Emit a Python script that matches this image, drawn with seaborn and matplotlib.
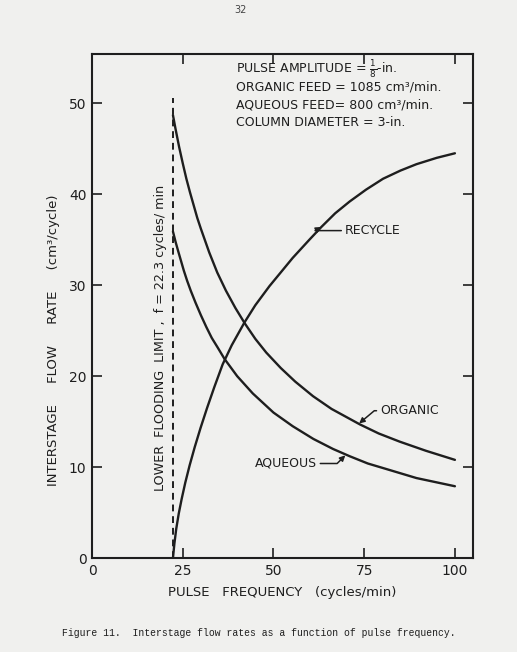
import numpy as np
import pandas as pd
import matplotlib
matplotlib.use('Agg')
import matplotlib.pyplot as plt
import seaborn as sns

# ── Data ──────────────────────────────────────────────────────────────────────
FLOOD_LIMIT = 22.3

recycle_x = [22.3, 22.7, 23.2, 23.9, 24.7, 25.7, 26.9, 28.3, 29.9, 31.7, 33.7, 36.0,
             38.5, 40.6, 42.0, 45.0, 48.9, 52.0, 55.3, 59.9, 63.2, 67.0, 71.0, 75.5,
             80.2, 85.0, 89.4, 95.0, 100.0]
recycle_y = [0.0, 1.6, 3.2, 4.9, 6.5, 8.3, 10.2, 12.2, 14.3, 16.5, 18.8, 21.3,
             23.4, 24.9, 25.9, 27.8, 29.9, 31.4, 33.0, 35.0, 36.4, 37.9, 39.2, 40.5,
             41.7, 42.6, 43.3, 44.0, 44.5]

organic_x = [22.3, 23.0, 24.0, 25.0, 26.0, 27.0, 28.0, 29.0, 30.0, 32.3, 34.5, 36.9,
             39.5, 42.1, 45.0, 48.0, 52.0, 56.0, 60.9, 66.0, 73.8, 79.0, 84.8, 92.0,
             100.0]
organic_y = [48.7, 47.2, 45.2, 43.4, 41.7, 40.2, 38.8, 37.4, 36.2, 33.6, 31.4, 29.4,
             27.5, 25.8, 24.1, 22.6, 20.9, 19.4, 17.8, 16.4, 14.7, 13.7, 12.8, 11.8,
             10.8]

aqueous_x = [22.3, 23.0, 23.7, 24.5, 25.3, 26.2, 27.2, 28.5, 30.0, 31.5, 33.0, 34.7,
             36.5, 40.0, 44.3, 50.0, 55.3, 61.0, 66.4, 71.0, 76.0, 80.2, 89.4, 100.0]
aqueous_y = [35.9, 34.8, 33.8, 32.7, 31.6, 30.5, 29.4, 28.1, 26.7, 25.4, 24.2, 23.1,
             21.9, 20.0, 18.1, 16.0, 14.5, 13.1, 12.0, 11.2, 10.4, 9.9, 8.8, 7.9]

x_ticks = [0, 25, 50, 75, 100]
y_ticks = [0, 10, 20, 30, 40, 50]

info_lines = [r'PULSE AMPLITUDE = $\frac{1}{8}$-in.',
              'ORGANIC FEED = 1085 cm\u00b3/min.',
              'AQUEOUS FEED= 800 cm\u00b3/min.',
              'COLUMN DIAMETER = 3-in.']

df = pd.concat([
    pd.DataFrame({'freq': recycle_x, 'rate': recycle_y, 'stream': 'RECYCLE'}),
    pd.DataFrame({'freq': organic_x, 'rate': organic_y, 'stream': 'ORGANIC'}),
    pd.DataFrame({'freq': aqueous_x, 'rate': aqueous_y, 'stream': 'AQUEOUS'}),
], ignore_index=True)

# ── Style ─────────────────────────────────────────────────────────────────────
sns.set_theme(style='ticks')
plt.rcParams['font.family'] = ['DejaVu Sans']
PAPER = '#f0f0ee'
INK = '#1e1e1e'
FS = 9.0

fig = plt.figure(figsize=(5.17, 6.52), dpi=100, facecolor=PAPER)
ax = fig.add_axes([0.178, 0.144, 0.737, 0.773])
ax.set_facecolor(PAPER)

sns.lineplot(data=df, x='freq', y='rate', units='stream', estimator=None,
             sort=False, color=INK, linewidth=1.7, ax=ax, legend=False)

ax.plot([FLOOD_LIMIT, FLOOD_LIMIT], [0, 50.6], color=INK, lw=1.4,
        linestyle=(0, (3.5, 2.5)))

ax.set_xlim(0, 105)
ax.set_ylim(0, 55.4)
ax.set_xticks(x_ticks)
ax.set_yticks(y_ticks)
ax.tick_params(direction='in', length=7, width=1.2, colors=INK,
               labelsize=10, top=True, right=True, pad=4)
for s in ax.spines.values():
    s.set_color(INK)
    s.set_linewidth(1.5)

ax.set_xlabel('PULSE   FREQUENCY   (cycles/min)', fontsize=9.5, color=INK, labelpad=6)
ax.set_ylabel('INTERSTAGE     FLOW     RATE     (cm\u00b3/cycle)', fontsize=9.5,
              color=INK, labelpad=3)
ax.yaxis.set_label_coords(-0.085, 0.433)

# info block
for i, line in enumerate(info_lines):
    ax.text(39.6, 53.8 - i * 1.97, line, fontsize=FS, color=INK,
            ha='left', va='center')

ax.text(18.8, 24.2, 'LOWER  FLOODING  LIMIT ,  f = 22.3 cycles/ min', rotation=90,
        fontsize=9.2, color=INK, ha='center', va='center')

# curve labels with leader arrows
arrow = dict(arrowstyle='-|>', color=INK, lw=1.1, mutation_scale=8,
             shrinkA=0, shrinkB=0)
ax.annotate('RECYCLE', xy=(63.2, 36.4), xytext=(69.6, 36.0), fontsize=FS,
            color=INK, ha='left', va='center',
            arrowprops=dict(arrow, connectionstyle='angle,angleA=0,angleB=30,rad=0'))
ax.annotate('ORGANIC', xy=(73.6, 14.8), xytext=(79.3, 16.2), fontsize=FS,
            color=INK, ha='left', va='center',
            arrowprops=dict(arrow, connectionstyle='angle,angleA=0,angleB=40,rad=0'))
ax.annotate('AQUEOUS', xy=(69.8, 11.3), xytext=(62.0, 10.4), fontsize=FS,
            color=INK, ha='right', va='center',
            arrowprops=dict(arrow, connectionstyle='angle,angleA=0,angleB=45,rad=0'))

# page furniture
fig.text(0.465, 0.984, '32', fontsize=7, color='#444444', ha='center', va='center')
fig.text(0.5, 0.029, 'Figure 11.  Interstage flow rates as a function of pulse frequency.',
         family=['Liberation Mono', 'DejaVu Sans Mono'], fontsize=7.0, color=INK,
         ha='center', va='center')

fig.savefig('out.png', dpi=100, facecolor=PAPER)
